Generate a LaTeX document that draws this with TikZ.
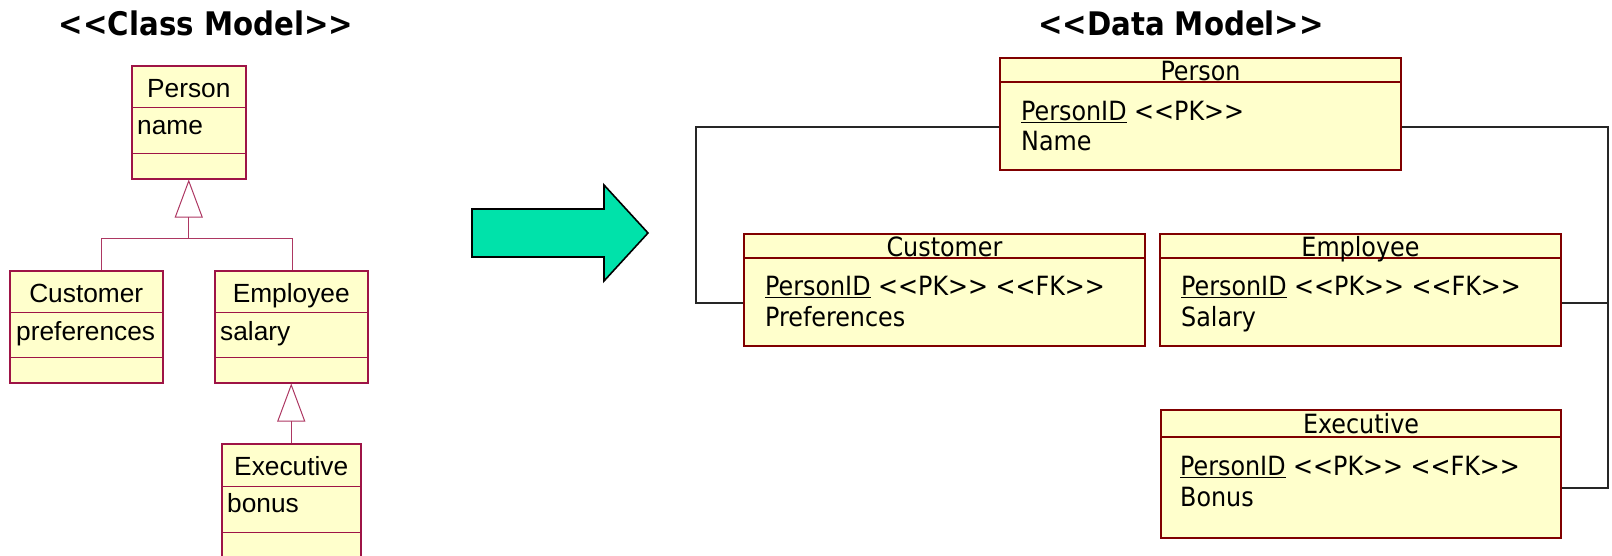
\documentclass[tikz,border=0pt]{standalone}
\usepackage{fontspec}
\setmainfont{Liberation Sans}
\newfontfamily\erdfont{DejaVu Sans Condensed}
\usetikzlibrary{arrows.meta,calc}

\definecolor{classfill}{RGB}{255,255,204}
\definecolor{classline}{RGB}{158,20,70}
\definecolor{tableline}{RGB}{128,0,0}
\definecolor{arrowgreen}{RGB}{0,226,170}

% stereotype brackets, kept apart so no guillemet mapping kicks in
\newcommand\stereoL{<\kern0pt<}
\newcommand\stereoR{>\kern0pt>}

\tikzset{
  classbox/.style={draw=classline, fill=classfill, line width=1.5pt, inner sep=0pt, anchor=north west},
  tablebox/.style={draw=tableline, fill=classfill, line width=2pt, inner sep=0pt, anchor=north west},
  compline/.style={draw=classline, line width=1pt},
  tabline/.style={draw=tableline, line width=2pt},
  ctext/.style={font=\fontsize{26.3}{30}\selectfont, inner sep=0pt, anchor=base},
  cattr/.style={font=\fontsize{26.3}{30}\selectfont, inner sep=0pt, anchor=base west},
  dtext/.style={font=\erdfont\fontsize{26.5}{30}\selectfont, inner sep=0pt, anchor=base},
  dattr/.style={font=\erdfont\fontsize{26.5}{30}\selectfont, inner sep=0pt, anchor=base west},
  heading/.style={font=\erdfont\bfseries\fontsize{32.5}{38}\selectfont, inner sep=0pt, anchor=base},
  genline/.style={draw=classline!85, line width=1pt},
  genarrow/.style={genline, -{Triangle[open, length=38pt, width=28pt, line width=1pt]}},
  rel/.style={draw=black!85, line width=2pt},
}

\begin{document}
\begin{tikzpicture}[x=1pt, y=-1pt]
\useasboundingbox (0,0) rectangle (1612,555);
\clip (0,0) rectangle (1612,555);

% ---------------- class model ----------------
\node[heading] (classTitle) at (206,35) {\stereoL Class Model\stereoR};

% Person
\node[classbox, minimum width=114pt, minimum height=113pt] (cPerson) at (131,65) {};
\draw[compline] ([yshift=-42pt]cPerson.north west) -- ([yshift=-42pt]cPerson.north east);
\draw[compline] ([yshift=-88pt]cPerson.north west) -- ([yshift=-88pt]cPerson.north east);
\node[ctext] (cPersonT) at ([yshift=-32pt]cPerson.north) {Person};
\node[cattr] (cPersonA) at ([xshift=6pt, yshift=-69pt]cPerson.north west) {name};

% Customer
\node[classbox, minimum width=153pt, minimum height=112pt] (cCust) at (9,270) {};
\draw[compline] ([yshift=-42pt]cCust.north west) -- ([yshift=-42pt]cCust.north east);
\draw[compline] ([yshift=-87pt]cCust.north west) -- ([yshift=-87pt]cCust.north east);
\node[ctext] (cCustT) at ([yshift=-32pt]cCust.north) {Customer};
\node[cattr] (cCustA) at ([xshift=7pt, yshift=-70pt]cCust.north west) {preferences};

% Employee
\node[classbox, minimum width=153pt, minimum height=112pt] (cEmp) at (214,270) {};
\draw[compline] ([yshift=-42pt]cEmp.north west) -- ([yshift=-42pt]cEmp.north east);
\draw[compline] ([yshift=-87pt]cEmp.north west) -- ([yshift=-87pt]cEmp.north east);
\node[ctext] (cEmpT) at ([yshift=-32pt]cEmp.north) {Employee};
\node[cattr] (cEmpA) at ([xshift=6pt, yshift=-70pt]cEmp.north west) {salary};

% Executive (runs past the lower edge)
\node[classbox, minimum width=139pt, minimum height=130pt] (cExec) at (221,443) {};
\draw[compline] ([yshift=-43pt]cExec.north west) -- ([yshift=-43pt]cExec.north east);
\draw[compline] ([yshift=-89pt]cExec.north west) -- ([yshift=-89pt]cExec.north east);
\node[ctext] (cExecT) at ([yshift=-32pt]cExec.north) {Executive};
\node[cattr] (cExecA) at ([xshift=6pt, yshift=-69pt]cExec.north west) {bonus};

% generalisations
\coordinate (jPerson) at ($(cPerson.south)+(0,59)$);
\draw[genline] ([xshift=15.5pt]cCust.north) |- (jPerson) -| ([xshift=1.5pt]cEmp.north);
\draw[genarrow] (jPerson) -- (cPerson.south);
\draw[genarrow] (cExec.north) -- (cEmp.south);

% ---------------- transformation arrow ----------------
\filldraw[fill=arrowgreen, draw=black, line width=1.6pt, line join=miter]
  (472,209) -- (604,209) -- (604,185) -- (648,233) -- (604,281) -- (604,257) -- (472,257) -- cycle;

% ---------------- data model ----------------
\node[heading] (dataTitle) at (1181,35) {\stereoL Data Model\stereoR};

% Person table
\node[tablebox, minimum width=401pt, minimum height=112pt] (dPerson) at (999,57) {};
\draw[tabline] ([yshift=-25pt]dPerson.north west) -- ([yshift=-25pt]dPerson.north east);
\node[dtext] (dPersonT) at ([yshift=-23pt]dPerson.north) {Person};
\node[dattr] (dPersonA) at ([xshift=22pt, yshift=-63pt]dPerson.north west) {\underline{PersonID} \stereoL PK\stereoR};
\node[dattr] (dPersonB) at ([xshift=22pt, yshift=-93pt]dPerson.north west) {Name};

% Customer table
\node[tablebox, minimum width=401pt, minimum height=112pt] (dCust) at (743,233) {};
\draw[tabline] ([yshift=-25pt]dCust.north west) -- ([yshift=-25pt]dCust.north east);
\node[dtext] (dCustT) at ([yshift=-23pt]dCust.north) {Customer};
\node[dattr] (dCustA) at ([xshift=22pt, yshift=-62pt]dCust.north west) {\underline{PersonID} \stereoL PK\stereoR{} \stereoL FK\stereoR};
\node[dattr] (dCustB) at ([xshift=22pt, yshift=-93pt]dCust.north west) {Preferences};

% Employee table
\node[tablebox, minimum width=401pt, minimum height=112pt] (dEmp) at (1159,233) {};
\draw[tabline] ([yshift=-25pt]dEmp.north west) -- ([yshift=-25pt]dEmp.north east);
\node[dtext] (dEmpT) at ([yshift=-23pt]dEmp.north) {Employee};
\node[dattr] (dEmpA) at ([xshift=22pt, yshift=-62pt]dEmp.north west) {\underline{PersonID} \stereoL PK\stereoR{} \stereoL FK\stereoR};
\node[dattr] (dEmpB) at ([xshift=22pt, yshift=-93pt]dEmp.north west) {Salary};

% Executive table
\node[tablebox, minimum width=400pt, minimum height=128pt] (dExec) at (1160,409) {};
\draw[tabline] ([yshift=-28pt]dExec.north west) -- ([yshift=-28pt]dExec.north east);
\node[dtext] (dExecT) at ([yshift=-24pt]dExec.north) {Executive};
\node[dattr] (dExecA) at ([xshift=20pt, yshift=-66pt]dExec.north west) {\underline{PersonID} \stereoL PK\stereoR{} \stereoL FK\stereoR};
\node[dattr] (dExecB) at ([xshift=20pt, yshift=-97pt]dExec.north west) {Bonus};

% relationships
\coordinate (leftRail) at (696,0);
\coordinate (rightRail) at (1608,0);
\coordinate (pL) at ([yshift=-13pt]dPerson.west);
\coordinate (pR) at ([yshift=-13pt]dPerson.east);
\coordinate (cL) at ([yshift=-13pt]dCust.west);
\coordinate (eR) at ([yshift=-13pt]dEmp.east);
\coordinate (xR) at ([yshift=-14pt]dExec.east);
\draw[rel] (pL) -- (pL -| leftRail) |- (cL);
\draw[rel] (pR) -- (pR -| rightRail) |- (xR);
\draw[rel] (eR) -- (eR -| rightRail);
\end{tikzpicture}
\end{document}
